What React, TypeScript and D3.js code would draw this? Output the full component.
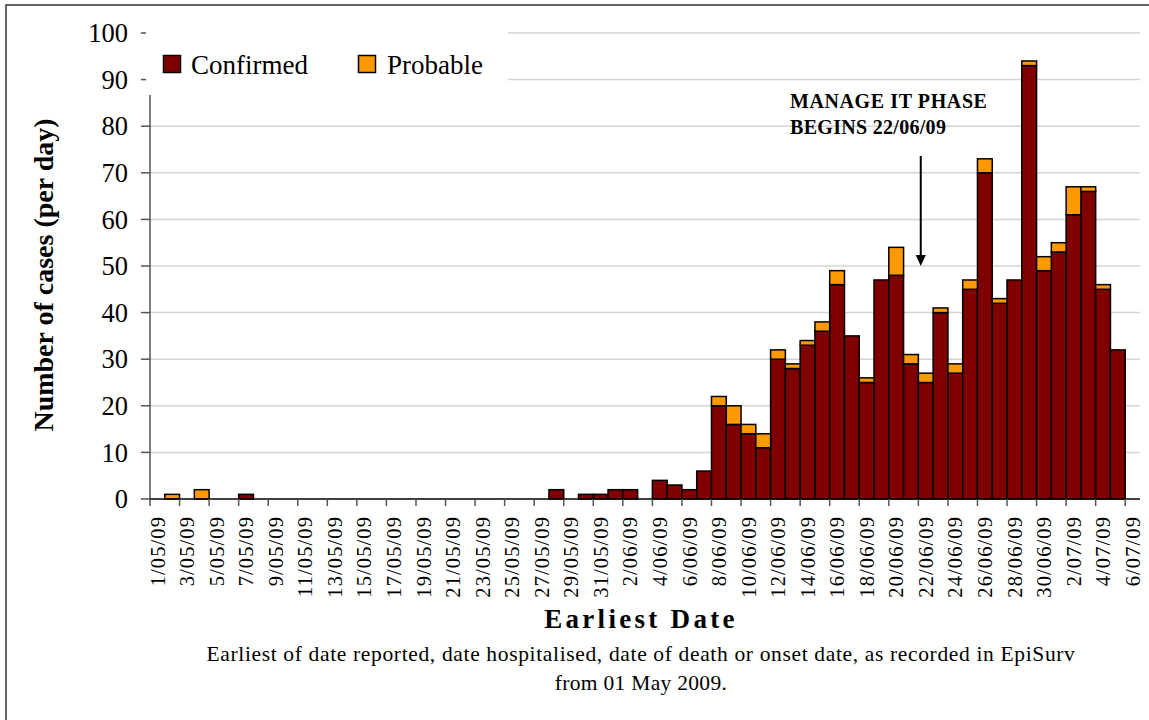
import React from "react";
import * as d3 from "d3";

const dates: string[] = [
  "1/05/09","2/05/09","3/05/09","4/05/09","5/05/09","6/05/09","7/05/09","8/05/09","9/05/09","10/05/09",
  "11/05/09","12/05/09","13/05/09","14/05/09","15/05/09","16/05/09","17/05/09","18/05/09","19/05/09","20/05/09",
  "21/05/09","22/05/09","23/05/09","24/05/09","25/05/09","26/05/09","27/05/09","28/05/09","29/05/09","30/05/09",
  "31/05/09","1/06/09","2/06/09","3/06/09","4/06/09","5/06/09","6/06/09","7/06/09","8/06/09","9/06/09",
  "10/06/09","11/06/09","12/06/09","13/06/09","14/06/09","15/06/09","16/06/09","17/06/09","18/06/09","19/06/09",
  "20/06/09","21/06/09","22/06/09","23/06/09","24/06/09","25/06/09","26/06/09","27/06/09","28/06/09","29/06/09",
  "30/06/09","1/07/09","2/07/09","3/07/09","4/07/09","5/07/09","6/07/09",
];

const confirmed: number[] = [
  0,0,0,0,0,0,1,0,0,0,
  0,0,0,0,0,0,0,0,0,0,
  0,0,0,0,0,0,0,2,0,1,
  1,2,2,0,4,3,2,6,20,16,
  14,11,30,28,33,36,46,35,25,47,
  48,29,25,40,27,45,70,42,47,93,
  49,53,61,66,45,32,0,
];

const probable: number[] = [
  0,1,0,2,0,0,0,0,0,0,
  0,0,0,0,0,0,0,0,0,0,
  0,0,0,0,0,0,0,0,0,0,
  0,0,0,0,0,0,0,0,2,4,
  2,3,2,1,1,2,3,0,1,0,
  6,2,2,1,2,2,3,1,0,1,
  3,2,6,1,1,0,0,
];

const yTicks: number[] = [0,10,20,30,40,50,60,70,80,90,100];
const tickLabels: string[] = dates.filter((_, i) => i % 2 === 0);

const seriesNames = ["Confirmed", "Probable"];
const colors = ["#800000", "#FF9900"];

const FONT = "'Liberation Serif', 'Times New Roman', serif";

export default function App() {
  const W = 1149, H = 720;
  const x = d3.scaleBand<string>().domain(dates).range([150, 1140]).padding(0);
  const y = d3.scaleLinear().domain([0, 100]).range([499, 33]);
  const bw = x.bandwidth();

  const rows = dates.map((d, i) => ({ date: d, Confirmed: confirmed[i], Probable: probable[i] }));
  const stacked = d3.stack<any>().keys(seriesNames)(rows);

  const boundaryTicks: number[] = [];
  for (let i = 0; i < dates.length; i += 2) boundaryTicks.push(x(dates[i])!);

  const arrowX = x("22/06/09")! + bw / 2 - 5;
  const tf = (size: number, extra: React.CSSProperties = {}): React.CSSProperties => ({ fontFamily: FONT, fontSize: size, ...extra });

  return (
    <svg width={W} height={H} style={{ position: "absolute", left: 0, top: 0, background: "#fff" }}>
      <rect x={0} y={0} width={W} height={H} fill="#fff" />
      <rect x={6} y={5} width={W + 20} height={H + 20} fill="none" stroke="#333" strokeWidth={1.5} />

      {/* gridlines */}
      {yTicks.filter(t => t > 0).map(t => (
        <line key={t} x1={150} x2={1140} y1={y(t)} y2={y(t)} stroke="#d4d4d4" strokeWidth={1.5} />
      ))}

      {/* bars */}
      {stacked.map((s, si) => (
        <g key={s.key}>
          {s.map((d, i) => (d[1] - d[0] > 0 ? (
            <rect key={i} x={x(dates[i])!} y={y(d[1])} width={bw} height={y(d[0]) - y(d[1])}
              fill={colors[si]} stroke="#000" strokeWidth={1.5} />
          ) : null))}
        </g>
      ))}

      {/* y axis */}
      <line x1={150} x2={150} y1={y(0)} y2={y(100)} stroke="#555" strokeWidth={1.5} />
      {yTicks.map(t => (
        <g key={t}>
          <line x1={141} x2={150} y1={y(t)} y2={y(t)} stroke="#555" strokeWidth={1.5} />
          <text x={128} y={y(t)} dy="0.35em" textAnchor="end" style={tf(26.5)} fill="#000">{t}</text>
        </g>
      ))}

      {/* x axis */}
      <line x1={150} x2={1140} y1={y(0)} y2={y(0)} stroke="#000" strokeWidth={1.5} />
      {boundaryTicks.map((bx, i) => (
        <line key={i} x1={bx} x2={bx} y1={y(0)} y2={y(0) + 7} stroke="#555" strokeWidth={1.5} />
      ))}
      {tickLabels.map(lbl => (
        <text key={lbl} transform={`translate(${x(lbl)! + bw / 2},516) rotate(-90)`} dy="0.35em"
          textAnchor="end" style={tf(20.5, { letterSpacing: "1.1px" })} fill="#000">{lbl}</text>
      ))}

      {/* legend */}
      <rect x={146} y={18} width={362} height={77} fill="#fff" />
      <rect x={163.5} y={55.5} width={17} height={17} fill={colors[0]} stroke="#000" strokeWidth={1.5} />
      <text x={191} y={74} style={tf(27)} fill="#000">{seriesNames[0]}</text>
      <rect x={358.5} y={55.5} width={17} height={17} fill={colors[1]} stroke="#000" strokeWidth={1.5} />
      <text x={387} y={74} style={tf(27)} fill="#000">{seriesNames[1]}</text>

      {/* annotation */}
      <text x={790} y={108} style={tf(20, { fontWeight: "bold", letterSpacing: "0.6px" })} fill="#000">MANAGE IT PHASE</text>
      <text x={790} y={134} style={tf(20, { fontWeight: "bold", letterSpacing: "0.3px" })} fill="#000">BEGINS 22/06/09</text>
      <line x1={arrowX} x2={arrowX} y1={156} y2={256} stroke="#000" strokeWidth={2} />
      <path d={`M${arrowX - 5},${255} L${arrowX + 5},${255} L${arrowX},${266} Z`} fill="#000" />

      {/* titles */}
      <text transform="translate(53,275) rotate(-90)" textAnchor="middle" style={tf(28, { fontWeight: "bold" })} fill="#000">
        Number of cases (per day)
      </text>
      <text x={641} y={628} textAnchor="middle" style={tf(27, { fontWeight: "bold", letterSpacing: "3.3px" })} fill="#000">Earliest Date</text>
      <text x={641} y={661} textAnchor="middle" style={tf(21.5, { letterSpacing: "0.65px" })} fill="#000">
        Earliest of date reported, date hospitalised, date of death or onset date, as recorded in EpiSurv
      </text>
      <text x={641} y={690} textAnchor="middle" style={tf(21.5, { letterSpacing: "0.3px" })} fill="#000">from 01 May 2009.</text>
    </svg>
  );
}
